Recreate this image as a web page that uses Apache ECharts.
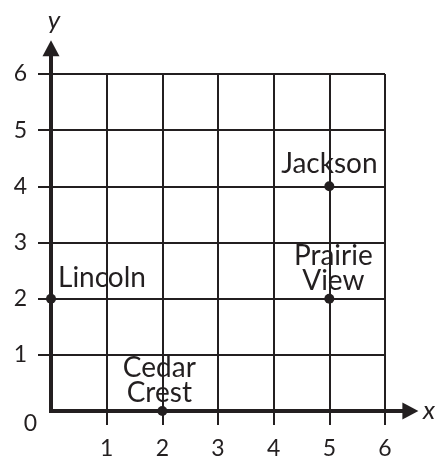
<!DOCTYPE html>
<html>
<head>
<meta charset="utf-8">
<script src="https://cdn.jsdelivr.net/npm/echarts@6/dist/echarts.min.js"></script>
<style>
  html, body { margin: 0; padding: 0; background: #fff; }
  #chart { width: 439px; height: 468px; }
</style>
</head>
<body>
<div id="chart"></div>
<script>
// Town locations on the coordinate grid
const towns = ['Lincoln', 'Cedar\nCrest', 'Jackson', 'Prairie\nView'];
const townX = [0, 2, 5, 5];
const townY = [2, 0, 4, 2];

// Axis ranges and tick labels
const xTicks = [1, 2, 3, 4, 5, 6];
const yTicks = [0, 1, 2, 3, 4, 5, 6];
const axisMax = 6;
// arrow tips of the x and y axes, just past the last grid line
const arrowTips = [[6.6, 0], [0, 6.6]];

const ink = '#231f20';
const font = 'Lato, "Noto Sans", sans-serif';

// Label placement per town
const labelPlace = [
  { position: 'right', align: 'left', offset: [-3, -21], distance: 5 },
  { position: 'top', offset: [-3, 0], distance: 1 },
  { position: 'top', offset: [0, 0], distance: 5 },
  { position: 'top', offset: [4, 0], distance: 0 }
];

const points = towns.map((name, i) => ({
  value: [townX[i], townY[i]],
  name: name,
  label: Object.assign({ show: true, formatter: name }, labelPlace[i])
}));

// Thick axis line from the origin to an arrowhead
function renderAxisArrow(params, api) {
  const o = api.coord([0, 0]);
  const tip = api.coord([api.value(0), api.value(1)]);
  const dx = tip[0] - o[0], dy = tip[1] - o[1];
  const len = Math.sqrt(dx * dx + dy * dy);
  const ux = dx / len, uy = dy / len;
  const headLen = 16, halfW = 8.5;
  const bx = tip[0] - ux * headLen, by = tip[1] - uy * headLen;
  return {
    type: 'group',
    children: [
      {
        type: 'line',
        shape: { x1: o[0] - ux * 2, y1: o[1] - uy * 2, x2: bx + ux * 2, y2: by + uy * 2 },
        style: { stroke: ink, lineWidth: 4 }
      },
      {
        type: 'polygon',
        shape: { points: [tip, [bx - uy * halfW, by + ux * halfW], [bx + uy * halfW, by - ux * halfW]] },
        style: { fill: ink }
      }
    ]
  };
}

const chart = echarts.init(document.getElementById('chart'), null, { renderer: 'canvas' });

chart.setOption({
  animation: false,
  backgroundColor: '#fff',
  grid: { left: 51, top: 74, right: 54, bottom: 57, containLabel: false },
  xAxis: {
    type: 'value', min: 0, max: axisMax, interval: 1,
    name: 'x', nameLocation: 'end', nameGap: 38,
    nameTextStyle: { fontFamily: font, fontSize: 26, fontStyle: 'italic', color: ink, verticalAlign: 'middle', padding: [4, 0, 0, 0] },
    axisLine: { show: false },
    axisTick: { show: true, length: 14, lineStyle: { color: ink, width: 2 }, customValues: xTicks },
    axisLabel: { customValues: xTicks, margin: 26, fontFamily: font, fontSize: 23, color: ink },
    splitLine: { show: true, lineStyle: { color: ink, width: 2 } }
  },
  yAxis: {
    type: 'value', min: 0, max: axisMax, interval: 1,
    name: 'y', nameLocation: 'end', nameGap: 40,
    nameTextStyle: { fontFamily: font, fontSize: 26, fontStyle: 'italic', color: ink, align: 'center', padding: [0, 0, 0, 6] },
    axisLine: { show: false },
    axisTick: { show: true, length: 13, lineStyle: { color: ink, width: 2 }, customValues: yTicks.filter(v => v > 0) },
    axisLabel: {
      customValues: yTicks, margin: 24, fontFamily: font, fontSize: 23, color: ink,
      formatter: v => (v === 0 ? '{zero|0}' : String(v)),
      rich: { zero: { fontFamily: font, fontSize: 23, color: ink, padding: [26, -10, 0, 0] } }
    },
    splitLine: { show: true, lineStyle: { color: ink, width: 2 } }
  },
  series: [
    {
      type: 'custom',
      clip: false,
      silent: true,
      z: 3,
      renderItem: renderAxisArrow,
      data: arrowTips
    },
    {
      type: 'scatter',
      clip: false,
      z: 4,
      symbol: 'circle',
      symbolSize: 10,
      itemStyle: { color: ink, opacity: 1 },
      label: { fontFamily: font, fontSize: 28, color: ink, opacity: 1, lineHeight: 25 },
      data: points
    }
  ]
});
</script>
</body>
</html>
